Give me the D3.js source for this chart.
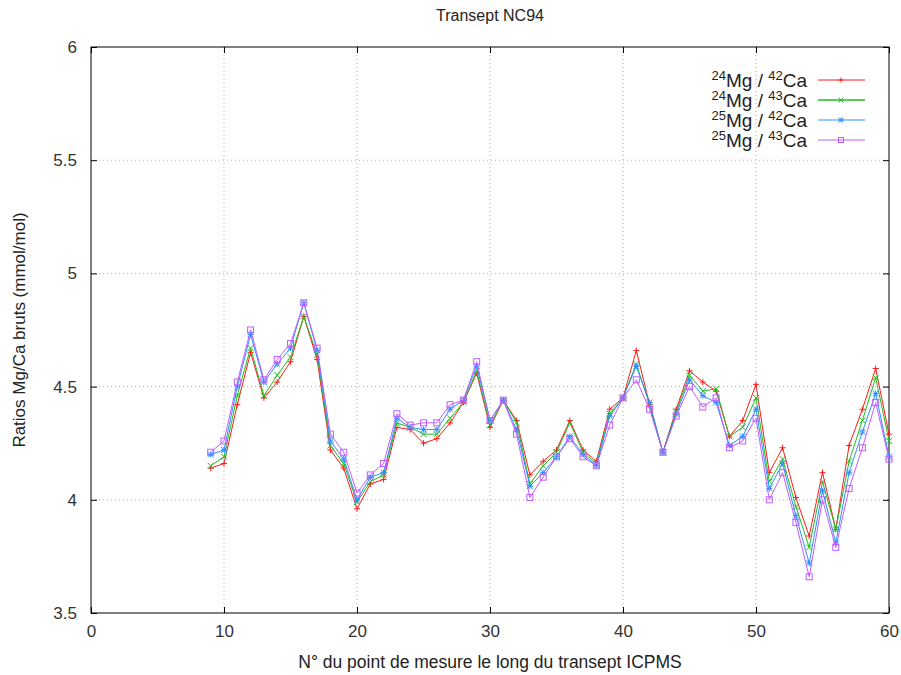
<!DOCTYPE html>
<html><head><meta charset="utf-8">
<script src="https://cdn.jsdelivr.net/npm/d3@7"></script>
<style>
body{margin:0;background:#fff;}
text{font-family:"Liberation Sans",Arial,sans-serif;}
</style></head>
<body><svg id="c" width="901" height="675"></svg>
<script>
const points = d3.range(9, 61);
const mg24ca42 = [4.14,4.16,4.42,4.65,4.45,4.52,4.61,4.81,4.62,4.22,4.14,3.96,4.07,4.09,4.32,4.31,4.25,4.27,4.34,4.43,4.56,4.32,4.44,4.35,4.11,4.17,4.22,4.35,4.22,4.17,4.40,4.45,4.66,4.42,4.21,4.40,4.57,4.52,4.48,4.28,4.35,4.51,4.12,4.23,4.01,3.84,4.12,3.87,4.24,4.40,4.58,4.29];
const mg24ca43 = [4.15,4.19,4.46,4.67,4.46,4.55,4.63,4.81,4.64,4.24,4.16,3.99,4.08,4.11,4.34,4.32,4.29,4.29,4.36,4.43,4.57,4.33,4.44,4.34,4.07,4.15,4.21,4.34,4.21,4.16,4.38,4.45,4.60,4.42,4.21,4.39,4.55,4.48,4.49,4.28,4.32,4.45,4.08,4.18,3.97,3.79,4.08,3.87,4.17,4.35,4.54,4.26];
const mg25ca42 = [4.20,4.22,4.50,4.73,4.52,4.60,4.67,4.87,4.66,4.26,4.18,4.00,4.10,4.12,4.36,4.32,4.31,4.31,4.40,4.44,4.59,4.35,4.44,4.31,4.06,4.12,4.19,4.28,4.20,4.15,4.37,4.45,4.59,4.43,4.21,4.38,4.53,4.46,4.43,4.24,4.28,4.40,4.05,4.16,3.93,3.72,4.04,3.81,4.12,4.30,4.47,4.19];
const mg25ca43 = [4.21,4.26,4.52,4.75,4.53,4.62,4.69,4.87,4.67,4.29,4.21,4.03,4.11,4.16,4.38,4.33,4.34,4.34,4.42,4.44,4.61,4.35,4.44,4.29,4.01,4.10,4.19,4.27,4.19,4.15,4.33,4.45,4.53,4.40,4.21,4.37,4.50,4.41,4.45,4.23,4.26,4.36,4.00,4.12,3.90,3.66,4.00,3.79,4.05,4.23,4.43,4.18];
const xTicks = [0,10,20,30,40,50,60];
const yTicks = [3.5,4,4.5,5,5.5,6];
const seriesNames = [["24","42"],["24","43"],["25","42"],["25","43"]];
const seriesColors = ["#ff1a1a","#22bb22","#2f8fff","#c05cff"];
const seriesMarkers = ["plus","cross","star","square"];
const seriesData = [mg24ca42, mg24ca43, mg25ca42, mg25ca43];

const svg = d3.select("#c");
const L=91,R=889,T=47,B=613;
const x = d3.scaleLinear().domain([0,60]).range([L,R]);
const y = d3.scaleLinear().domain([3.5,6]).range([B,T]);

// grid
const g = svg.append("g");
g.selectAll(".gx").data(xTicks.slice(1,-1)).enter().append("line")
 .attr("x1",d=>x(d)).attr("x2",d=>x(d)).attr("y1",T).attr("y2",B)
 .attr("stroke","#b0b0b0").attr("stroke-width",1).attr("stroke-dasharray","1,3");
g.selectAll(".gy").data(yTicks.slice(1,-1)).enter().append("line")
 .attr("y1",d=>y(d)).attr("y2",d=>y(d)).attr("x1",L).attr("x2",R)
 .attr("stroke","#b0b0b0").attr("stroke-width",1).attr("stroke-dasharray","1,3");

// axes
const xb = svg.append("g").attr("transform",`translate(0,${B})`)
 .call(d3.axisBottom(x).tickValues(xTicks).tickSizeInner(-6).tickSizeOuter(0).tickPadding(12).tickFormat(d3.format("d")));
const xt = svg.append("g").attr("transform",`translate(0,${T})`)
 .call(d3.axisTop(x).tickValues(xTicks).tickSizeInner(-6).tickSizeOuter(0).tickFormat(""));
const yl = svg.append("g").attr("transform",`translate(${L},0)`)
 .call(d3.axisLeft(y).tickValues(yTicks).tickSizeInner(-6).tickSizeOuter(0).tickPadding(14).tickFormat(d=>d));
const yr = svg.append("g").attr("transform",`translate(${R},0)`)
 .call(d3.axisRight(y).tickValues(yTicks).tickSizeInner(-6).tickSizeOuter(0).tickFormat(""));
[xb,xt,yl,yr].forEach(a=>{
  a.select(".domain").remove();
  a.selectAll("line").attr("stroke","#000");
  a.selectAll("text").attr("font-size",17).attr("fill","#333").attr("font-family","Liberation Sans, Arial, sans-serif");
});
svg.append("rect").attr("x",L).attr("y",T).attr("width",R-L).attr("height",B-T)
 .attr("fill","none").attr("stroke","#000").attr("stroke-width",1);

// markers
function marker(sel, type, color, s){
  if(type==="plus"){
    sel.append("path").attr("d",`M${-s},0H${s}M0,${-s}V${s}`).attr("stroke",color).attr("fill","none");
  } else if(type==="cross"){
    sel.append("path").attr("d",`M${-s},${-s}L${s},${s}M${-s},${s}L${s},${-s}`).attr("stroke",color).attr("fill","none");
  } else if(type==="star"){
    sel.append("path").attr("d",`M${-s},0H${s}M0,${-s}V${s}M${-s},${-s}L${s},${s}M${-s},${s}L${s},${-s}`).attr("stroke",color).attr("fill","none");
  } else {
    sel.append("rect").attr("x",-s).attr("y",-s).attr("width",2*s).attr("height",2*s).attr("stroke",color).attr("fill","none");
  }
}

const line = d3.line().x((d,i)=>x(points[i])).y(d=>y(d));
seriesData.forEach((data,k)=>{
  svg.append("path").datum(data).attr("d",line).attr("fill","none")
    .attr("stroke",seriesColors[k]).attr("stroke-width",1);
  svg.append("g").selectAll("g").data(data).enter().append("g")
    .attr("transform",(d,i)=>`translate(${x(points[i])},${y(d)})`)
    .each(function(){ marker(d3.select(this), seriesMarkers[k], seriesColors[k], 3); });
});

// legend
seriesNames.forEach((nm,k)=>{
  const yy = 80 + k*20;
  const t = svg.append("text").attr("x",807).attr("y",yy+7).attr("text-anchor","end")
    .attr("font-size",19).attr("fill","#222");
  t.append("tspan").attr("font-size",13).attr("dy",-7).text(nm[0]);
  t.append("tspan").attr("dy",7).text("Mg / ");
  t.append("tspan").attr("font-size",13).attr("dy",-7).text(nm[1]);
  t.append("tspan").attr("dy",7).text("Ca");
  svg.append("line").attr("x1",818).attr("x2",865).attr("y1",yy).attr("y2",yy)
    .attr("stroke",seriesColors[k]).attr("stroke-width",k===1?1.5:1);
  const mg = svg.append("g").attr("transform",`translate(841,${yy})`);
  marker(mg, seriesMarkers[k], seriesColors[k], 2.5);
});

// titles
svg.append("text").attr("x",490).attr("y",21).attr("text-anchor","middle").attr("font-size",16).attr("fill","#222").text("Transept NC94");
svg.append("text").attr("x",490).attr("y",668).attr("text-anchor","middle").attr("font-size",17.5).attr("fill","#222").text("N° du point de mesure le long du transept ICPMS");
svg.append("text").attr("transform","translate(25,330) rotate(-90)").attr("text-anchor","middle").attr("font-size",17).attr("fill","#222").text("Ratios Mg/Ca bruts (mmol/mol)");
</script></body></html>
